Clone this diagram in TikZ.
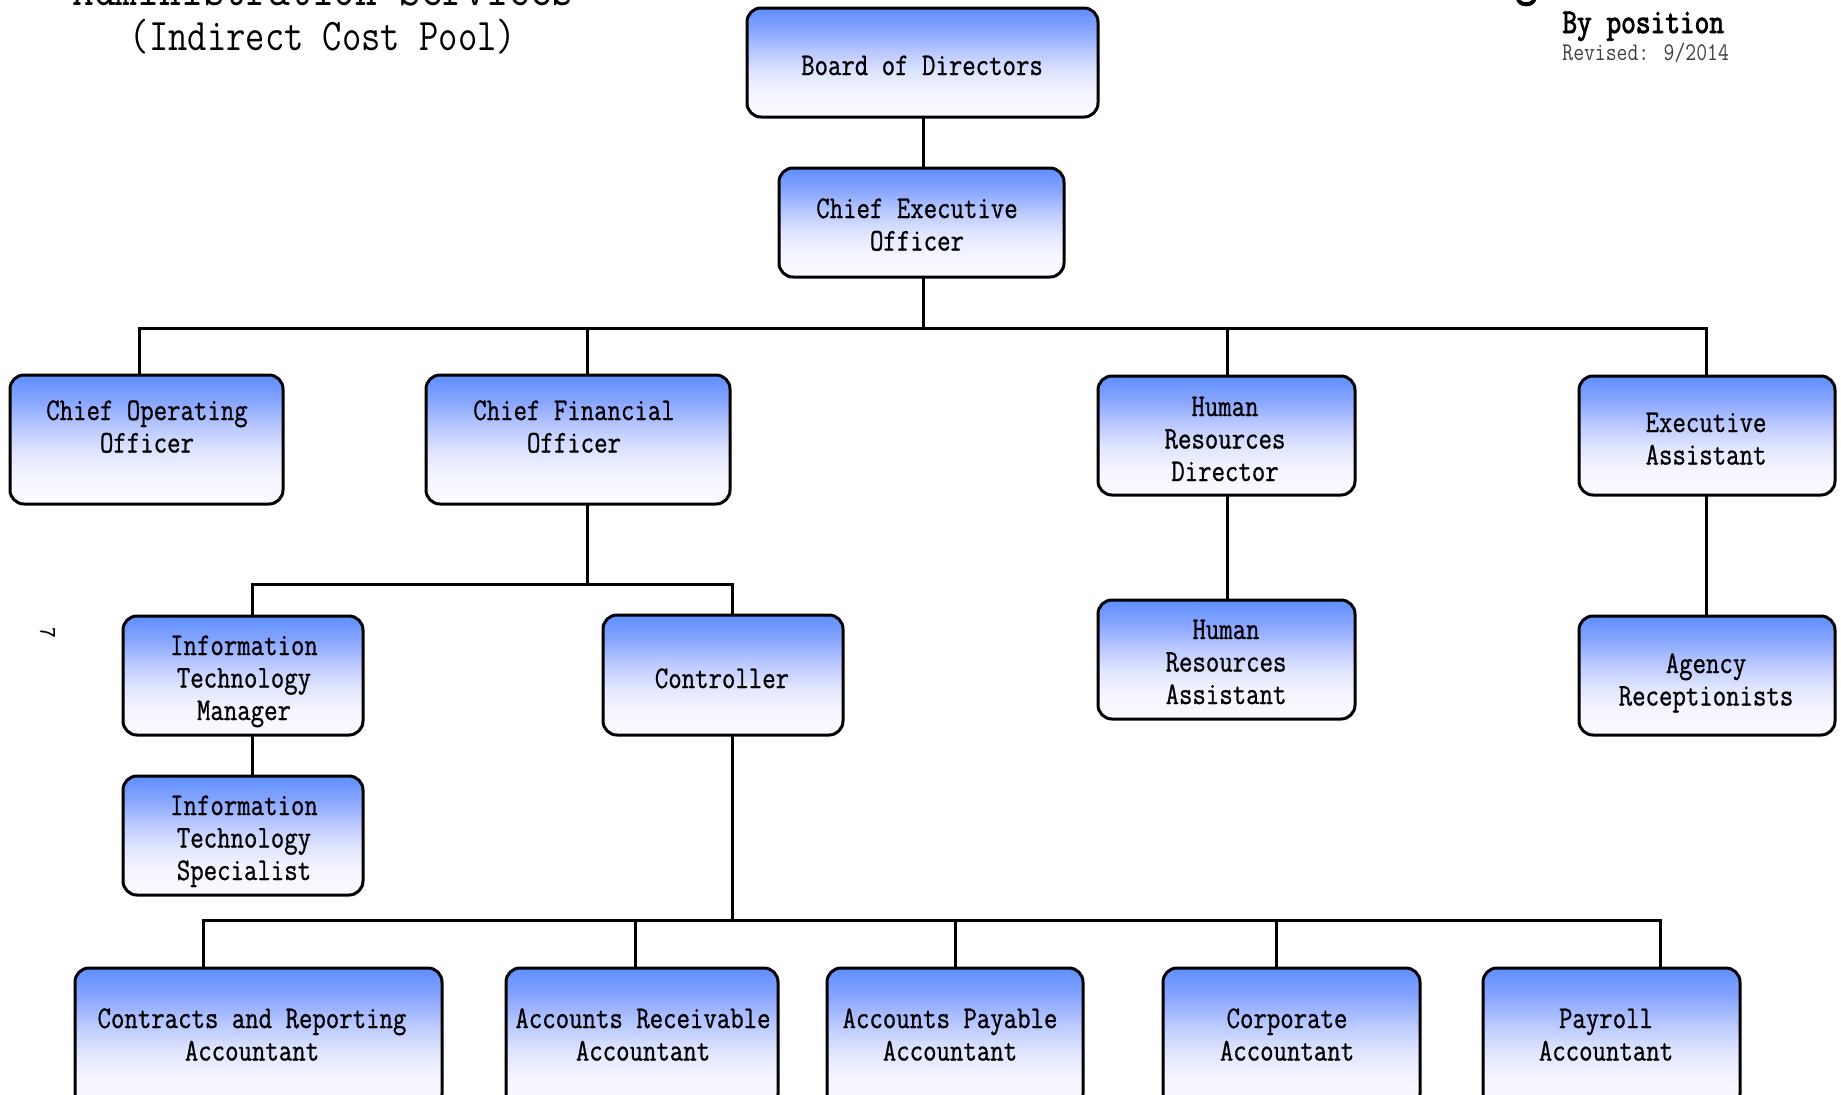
\documentclass[tikz,border=0pt]{standalone}
\usepackage{fontspec}
\newfontfamily\boxfont[FakeStretch=0.825,FakeBold=0.8]{Latin Modern Mono}
\newfontfamily\headfont[FakeStretch=0.83]{Latin Modern Mono}
\newfontfamily\headbold[FakeStretch=0.82,FakeBold=2.5]{Latin Modern Mono}

\definecolor{shadetop}{RGB}{94,142,255}
\definecolor{shadehigh}{RGB}{135,165,255}
\definecolor{shademid}{RGB}{185,200,255}
\definecolor{shadelow}{RGB}{225,230,255}
\definecolor{shadepale}{RGB}{245,246,255}
\definecolor{shadebot}{RGB}{250,250,255}

% blue at the top fading to near white at the bottom
\pgfdeclareverticalshading{orgshade}{100bp}{%
  color(0bp)=(shadebot); color(25bp)=(shadebot); color(35bp)=(shadepale);
  color(45bp)=(shadelow); color(55bp)=(shademid); color(65bp)=(shadehigh);
  color(75bp)=(shadetop); color(100bp)=(shadetop)}

\tikzset{
  orgbox/.style={draw=black, line width=1.5pt, rounded corners=7pt,
    shade, shading=orgshade, inner sep=0pt, outer sep=0pt},
  % labels are placed by the baseline of their last line
  orgtext/.style={anchor=base, align=center, inner sep=0pt,
    font=\boxfont\fontsize{15.8pt}{16.25pt}\selectfont},
  link/.style={draw=black, line width=1.5pt}
}

\begin{document}
\begin{tikzpicture}[x=0.5pt, y=-0.5pt]
\useasboundingbox (0,0) rectangle (1841,1094);
\clip (0,0) rectangle (1841,1094);
\fill[white] (0,0) rectangle (1841,1094);

% headings
\node[anchor=base, inner sep=0pt, font=\headfont\fontsize{25.5pt}{28pt}\selectfont]
  (title) at (323,5) {Administration Services};
\node[anchor=base, inner sep=0pt, font=\headfont\fontsize{22.6pt}{24pt}\selectfont]
  (subtitle) at (323,50) {(Indirect Cost Pool)};
\node[anchor=base west, inner sep=0pt, font=\headbold\fontsize{25.5pt}{28pt}\selectfont]
  (charttitle) at (1472,-6) {Organizational Chart};
\node[anchor=base west, inner sep=0pt, font=\headbold\fontsize{17.4pt}{19pt}\selectfont]
  (byposition) at (1562,33) {By position};
\node[anchor=base west, inner sep=0pt, text=black!75, font=\headfont\fontsize{12.7pt}{14pt}\selectfont]
  (revised) at (1562,60) {Revised: 9/2014};
\node[inner sep=0pt, rotate=-90, font=\boxfont\fontsize{12pt}{14pt}\selectfont]
  (pagemark) at (47.5,632.5) {7};

% boxes
\node[orgbox, minimum width=175.5pt, minimum height=54.5pt] (board) at (922.5,62.5) {};
\node[orgbox, minimum width=142.5pt, minimum height=54.5pt] (ceo) at (921.5,222.5) {};
\node[orgbox, minimum width=136.5pt, minimum height=64.5pt] (coo) at (146.5,439.5) {};
\node[orgbox, minimum width=152pt, minimum height=64.5pt] (cfo) at (578,439.5) {};
\node[orgbox, minimum width=128.5pt, minimum height=59.5pt] (hrd) at (1226.5,435.5) {};
\node[orgbox, minimum width=128pt, minimum height=59.5pt] (ea) at (1707,435.5) {};
\node[orgbox, minimum width=120pt, minimum height=59.5pt] (itm) at (243,675.5) {};
\node[orgbox, minimum width=120pt, minimum height=60pt] (ctrl) at (723,675) {};
\node[orgbox, minimum width=120pt, minimum height=59.5pt] (its) at (243,835.5) {};
\node[orgbox, minimum width=128.5pt, minimum height=59.5pt] (hra) at (1226.5,659.5) {};
\node[orgbox, minimum width=128pt, minimum height=59.5pt] (agr) at (1707,675.5) {};
\node[orgbox, minimum width=183.5pt, minimum height=70pt] (cra) at (258.5,1038) {};
\node[orgbox, minimum width=136pt, minimum height=70pt] (ara) at (642,1038) {};
\node[orgbox, minimum width=128pt, minimum height=70pt] (apa) at (955,1038) {};
\node[orgbox, minimum width=128.5pt, minimum height=70pt] (cpa) at (1291.5,1038) {};
\node[orgbox, minimum width=128.5pt, minimum height=70pt] (pra) at (1611.5,1038) {};

% box labels
\node[orgtext] (boardT) at (922,75) {Board of Directors};
\node[orgtext] (ceoT) at (917,250.5) {Chief Executive\\Officer};
\node[orgtext] (cooT) at (147,452.5) {Chief Operating\\Officer};
\node[orgtext] (cfoT) at (574,452.5) {Chief Financial\\Officer};
\node[orgtext] (hrdT) at (1225,481) {Human\\Resources\\Director};
\node[orgtext] (eaT) at (1706,464.5) {Executive\\Assistant};
\node[orgtext] (itmT) at (244,720) {Information\\Technology\\Manager};
\node[orgtext] (ctrlT) at (722,688) {Controller};
\node[orgtext] (itsT) at (244,880) {Information\\Technology\\Specialist};
\node[orgtext] (hraT) at (1226,704) {Human\\Resources\\Assistant};
\node[orgtext] (agrT) at (1706,705.5) {Agency\\Receptionists};
\node[orgtext] (craT) at (252,1060.5) {Contracts and Reporting\\Accountant};
\node[orgtext] (araT) at (643,1060.5) {Accounts Receivable\\Accountant};
\node[orgtext] (apaT) at (950,1060.5) {Accounts Payable\\Accountant};
\node[orgtext] (cpaT) at (1287,1060.5) {Corporate\\Accountant};
\node[orgtext] (praT) at (1606,1060.5) {Payroll\\Accountant};

% junctions on the reporting lines
\coordinate (jceo) at (923,328);
\coordinate (jcoo) at (139,328);
\coordinate (jcfo) at (587,328);
\coordinate (jhrd) at (1227,328);
\coordinate (jea) at (1706,328);
\coordinate (jfin) at (587,584);
\coordinate (jitm) at (252,584);
\coordinate (jctrl) at (732,584);
\coordinate (jacc) at (732,920);
\coordinate (jcra) at (203,920);
\coordinate (jara) at (635,920);
\coordinate (japa) at (955,920);
\coordinate (jcpa) at (1276,920);
\coordinate (jpra) at (1660,920);

% connectors
\draw[link] (board.south -| jceo) -- (ceo.north -| jceo);
\draw[link] (ceo.south -| jceo) -- (jceo);
\draw[link] (coo.north -| jcoo) -- (jcoo) -- (jea) -- (ea.north -| jea);
\draw[link] (jcfo) -- (cfo.north -| jcfo);
\draw[link] (jhrd) -- (hrd.north -| jhrd);
\draw[link] (cfo.south -| jfin) -- (jfin);
\draw[link] (itm.north -| jitm) -- (jitm) -- (jctrl) -- (ctrl.north -| jctrl);
\draw[link] (itm.south -| jitm) -- (its.north -| jitm);
\draw[link] (hrd.south -| jhrd) -- (hra.north -| jhrd);
\draw[link] (ea.south -| jea) -- (agr.north -| jea);
\draw[link] (ctrl.south -| jacc) -- (jacc);
\draw[link] (cra.north -| jcra) -- (jcra) -- (jpra) -- (pra.north -| jpra);
\draw[link] (jara) -- (ara.north -| jara);
\draw[link] (japa) -- (apa.north -| japa);
\draw[link] (jcpa) -- (cpa.north -| jcpa);
\end{tikzpicture}
\end{document}
